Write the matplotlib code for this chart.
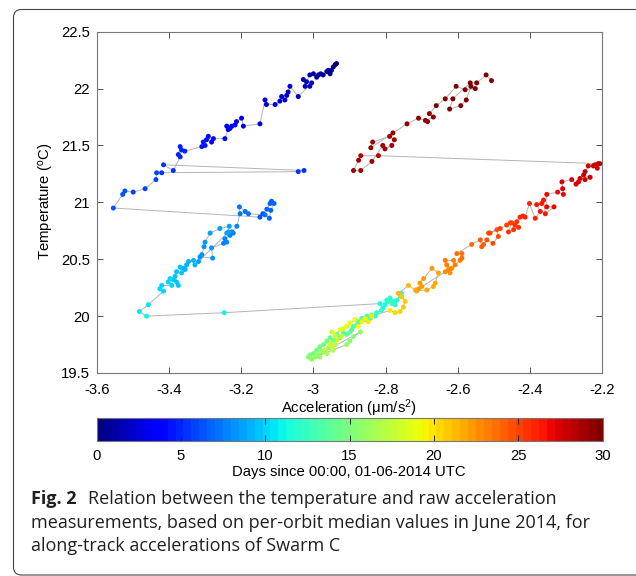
import matplotlib
matplotlib.use("Agg")
import matplotlib.pyplot as plt
import matplotlib.patches as mpatches
import matplotlib.transforms as mtransforms
from matplotlib.ticker import FuncFormatter
import numpy as np

# (acceleration um/s^2, temperature degC, days since 2014-06-01) per orbit, in time order
BLUE_TOP = [
    (-2.936, 22.22, 0.2), (-2.940, 22.21, 0.3), (-2.945, 22.19, 0.4), (-2.954, 22.13, 0.5),
    (-2.950, 22.16, 0.6), (-2.959, 22.16, 0.7), (-2.963, 22.15, 0.8), (-2.973, 22.12, 0.9),
    (-2.980, 22.13, 1.0), (-2.986, 22.12, 1.1), (-2.991, 22.10, 1.2), (-3.000, 22.13, 1.3),
    (-3.010, 22.12, 1.4), (-3.019, 22.06, 1.5), (-3.028, 22.08, 1.6), (-3.023, 22.02, 1.7),
    (-3.010, 22.02, 1.8), (-3.005, 22.05, 1.9), (-3.042, 21.93, 2.0), (-3.065, 22.02, 2.1),
    (-3.070, 21.97, 2.2), (-3.074, 21.94, 2.3), (-3.088, 21.93, 2.4), (-3.079, 21.90, 2.5),
    (-3.093, 21.89, 2.6), (-3.106, 21.86, 2.7), (-3.130, 21.86, 2.8), (-3.134, 21.90, 2.9),
    (-3.148, 21.69, 3.0), (-3.194, 21.67, 3.1), (-3.199, 21.74, 3.2), (-3.213, 21.71, 3.3),
    (-3.217, 21.68, 3.4), (-3.226, 21.67, 3.5), (-3.231, 21.65, 3.6), (-3.240, 21.67, 3.7),
    (-3.236, 21.64, 3.8), (-3.245, 21.56, 3.9), (-3.277, 21.56, 4.0), (-3.282, 21.53, 4.1),
    (-3.291, 21.58, 4.2), (-3.296, 21.55, 4.3), (-3.305, 21.53, 4.4), (-3.300, 21.50, 4.5),
    (-3.309, 21.49, 4.6), (-3.356, 21.45, 4.7), (-3.365, 21.46, 4.8), (-3.369, 21.49, 4.9),
    (-3.374, 21.42, 5.0), (-3.369, 21.40, 5.1), (-3.388, 21.28, 5.2), (-3.415, 21.33, 5.3),
    (-3.026, 21.28, 5.4), (-3.042, 21.27, 5.5), (-3.420, 21.26, 5.6), (-3.434, 21.26, 5.7),
    (-3.436, 21.20, 5.8), (-3.466, 21.12, 5.9), (-3.499, 21.09, 6.0), (-3.522, 21.10, 6.1),
    (-3.528, 21.07, 6.2), (-3.554, 20.95, 6.3),
]

BLUE_RIGHT = [
    (-3.148, 20.87, 6.4), (-3.140, 20.90, 6.5), (-3.129, 20.94, 6.6), (-3.120, 20.99, 6.7),
    (-3.116, 21.01, 6.75), (-3.109, 20.99, 6.8), (-3.118, 20.93, 6.9), (-3.122, 20.86, 7.0),
    (-3.134, 20.89, 7.05), (-3.180, 20.90, 7.15), (-3.189, 20.92, 7.2), (-3.205, 20.96, 7.3),
    (-3.203, 20.90, 7.4),
]

CYAN_TRACK = [
    (-3.212, 20.79, 7.5), (-3.226, 20.74, 7.6), (-3.222, 20.73, 7.65), (-3.231, 20.71, 7.7),
    (-3.245, 20.68, 7.8), (-3.240, 20.65, 7.85), (-3.249, 20.64, 7.9), (-3.282, 20.60, 8.0),
    (-3.279, 20.51, 8.1), (-3.314, 20.52, 8.2), (-3.309, 20.54, 8.25), (-3.303, 20.61, 8.3),
    (-3.300, 20.65, 8.4), (-3.286, 20.73, 8.5), (-3.259, 20.77, 8.6), (-3.233, 20.79, 8.65),
    (-3.240, 20.73, 8.7), (-3.235, 20.74, 8.75), (-3.318, 20.48, 8.9), (-3.328, 20.45, 9.0),
    (-3.332, 20.49, 9.05), (-3.346, 20.48, 9.1), (-3.351, 20.45, 9.2), (-3.360, 20.42, 9.3),
    (-3.355, 20.41, 9.35), (-3.369, 20.43, 9.4), (-3.365, 20.38, 9.5), (-3.379, 20.39, 9.55),
    (-3.383, 20.35, 9.6), (-3.379, 20.30, 9.7), (-3.374, 20.27, 9.75), (-3.388, 20.32, 9.8),
    (-3.397, 20.33, 9.85), (-3.402, 20.30, 9.9), (-3.392, 20.27, 10.0), (-3.420, 20.27, 10.1),
    (-3.425, 20.24, 10.2), (-3.415, 20.22, 10.3), (-3.457, 20.10, 10.5), (-3.482, 20.04, 10.7),
    (-3.462, 20.00, 10.9), (-3.247, 20.03, 11.2),
]

MID_CLUSTER = [
    (-2.816, 20.11, 11.4), (-2.808, 20.07, 11.5), (-2.802, 20.10, 11.6), (-2.797, 20.14, 11.7),
    (-2.788, 20.16, 11.8), (-2.779, 20.13, 11.9), (-2.769, 20.14, 12.0), (-2.760, 20.19, 12.1),
    (-2.756, 20.20, 12.15), (-2.774, 20.10, 12.25), (-2.783, 20.11, 12.3), (-2.792, 20.13, 12.35),
    (-2.812, 20.05, 12.4), (-2.825, 20.03, 12.5), (-2.829, 20.00, 12.6), (-2.839, 20.01, 12.7),
    (-2.843, 19.98, 12.8), (-2.852, 20.00, 12.9), (-2.857, 19.97, 13.0), (-2.866, 19.98, 13.1),
    (-2.876, 19.95, 13.2), (-2.880, 19.92, 13.3), (-2.889, 19.91, 13.4), (-2.894, 19.88, 13.5),
    (-2.899, 19.86, 13.6), (-2.908, 19.84, 13.7), (-2.917, 19.85, 13.8), (-2.926, 19.81, 13.9),
    (-2.935, 19.84, 14.0), (-2.945, 19.79, 14.15), (-2.954, 19.81, 14.3), (-2.963, 19.78, 14.45),
    (-2.972, 19.75, 14.6), (-2.982, 19.73, 14.75), (-2.991, 19.70, 14.9), (-3.000, 19.67, 15.05),
    (-3.009, 19.66, 15.2), (-3.014, 19.64, 15.35), (-3.005, 19.62, 15.5), (-2.995, 19.64, 15.6),
    (-2.908, 19.75, 15.7), (-2.899, 19.78, 15.75), (-2.889, 19.82, 15.8), (-2.870, 19.86, 15.85),
    (-2.986, 19.66, 15.9), (-2.982, 19.64, 16.1), (-2.977, 19.69, 16.3), (-2.963, 19.67, 16.5),
    (-2.968, 19.70, 16.7), (-2.959, 19.72, 16.9), (-2.945, 19.70, 17.1), (-2.949, 19.73, 17.3),
    (-2.940, 19.75, 17.5), (-2.954, 19.76, 17.7), (-2.935, 19.79, 17.9), (-2.922, 19.82, 18.1),
    (-2.949, 19.86, 18.2), (-2.940, 19.83, 18.25), (-2.926, 19.88, 18.4), (-2.917, 19.89, 18.5),
    (-2.908, 19.91, 18.6), (-2.899, 19.94, 18.75), (-2.885, 19.97, 18.9), (-2.876, 19.91, 19.1),
    (-2.866, 19.95, 19.3), (-2.857, 19.98, 19.5), (-2.848, 19.95, 19.7), (-2.839, 20.00, 19.9),
]

ORANGE_RED = [
    (-2.788, 20.05, 20.1), (-2.774, 20.03, 20.3), (-2.760, 20.04, 20.5), (-2.751, 20.08, 20.7),
    (-2.746, 20.13, 20.9), (-2.756, 20.17, 21.0), (-2.765, 20.20, 21.2), (-2.737, 20.27, 21.4),
    (-2.718, 20.23, 21.5), (-2.714, 20.22, 21.6), (-2.686, 20.23, 21.7), (-2.668, 20.26, 21.8),
    (-2.663, 20.29, 21.9), (-2.654, 20.38, 22.0), (-2.672, 20.42, 22.1), (-2.695, 20.33, 22.2),
    (-2.705, 20.29, 22.3), (-2.700, 20.26, 22.35), (-2.709, 20.24, 22.4), (-2.635, 20.39, 22.6),
    (-2.626, 20.41, 22.7), (-2.622, 20.38, 22.8), (-2.617, 20.42, 22.9), (-2.631, 20.45, 23.0),
    (-2.635, 20.49, 23.1), (-2.612, 20.49, 23.2), (-2.608, 20.45, 23.3), (-2.594, 20.49, 23.4),
    (-2.589, 20.51, 23.5), (-2.589, 20.55, 23.6), (-2.603, 20.55, 23.7), (-2.562, 20.63, 23.9),
    (-2.538, 20.67, 24.1), (-2.534, 20.61, 24.2), (-2.529, 20.63, 24.3), (-2.520, 20.67, 24.4),
    (-2.503, 20.64, 24.5), (-2.488, 20.70, 24.6), (-2.492, 20.76, 24.7), (-2.511, 20.73, 24.8),
    (-2.515, 20.73, 24.85), (-2.483, 20.77, 24.95), (-2.465, 20.80, 25.1), (-2.455, 20.82, 25.2),
    (-2.451, 20.82, 25.25), (-2.460, 20.74, 25.35), (-2.446, 20.76, 25.45), (-2.432, 20.78, 25.55),
    (-2.442, 20.80, 25.6), (-2.437, 20.83, 25.7), (-2.428, 20.87, 25.8), (-2.420, 20.88, 25.9),
    (-2.414, 20.87, 26.0), (-2.402, 20.99, 26.1), (-2.386, 20.86, 26.2), (-2.372, 20.92, 26.3),
    (-2.382, 20.98, 26.4), (-2.368, 20.99, 26.5), (-2.363, 21.02, 26.6), (-2.358, 20.90, 26.7),
    (-2.334, 20.96, 26.8), (-2.354, 20.96, 26.85), (-2.354, 21.07, 26.95), (-2.324, 21.09, 27.05),
    (-2.308, 21.07, 27.15), (-2.310, 21.12, 27.2), (-2.312, 21.18, 27.3), (-2.285, 21.20, 27.4),
    (-2.273, 21.16, 27.5), (-2.266, 21.18, 27.55), (-2.262, 21.21, 27.6), (-2.248, 21.20, 27.7),
    (-2.234, 21.22, 27.75), (-2.252, 21.24, 27.8), (-2.248, 21.27, 27.85), (-2.239, 21.32, 27.9),
    (-2.225, 21.32, 27.95), (-2.221, 21.33, 28.0), (-2.214, 21.30, 28.05), (-2.212, 21.34, 28.1),
    (-2.207, 21.34, 28.15),
]

DARK_RED = [
    (-2.820, 21.41, 28.5), (-2.869, 21.41, 28.55), (-2.875, 21.37, 28.6), (-2.889, 21.28, 28.65),
    (-2.869, 21.28, 28.7), (-2.838, 21.36, 28.75), (-2.808, 21.50, 28.8), (-2.802, 21.47, 28.85),
    (-2.783, 21.50, 28.9), (-2.776, 21.55, 28.95), (-2.789, 21.58, 29.0), (-2.836, 21.53, 29.05),
    (-2.841, 21.48, 29.1), (-2.780, 21.61, 29.15), (-2.741, 21.69, 29.2), (-2.709, 21.74, 29.3),
    (-2.684, 21.71, 29.35), (-2.690, 21.72, 29.4), (-2.668, 21.75, 29.45), (-2.679, 21.78, 29.5),
    (-2.660, 21.85, 29.55), (-2.635, 21.91, 29.6), (-2.605, 22.02, 29.65), (-2.580, 21.99, 29.7),
    (-2.552, 22.00, 29.72), (-2.564, 22.02, 29.75), (-2.577, 21.90, 29.78), (-2.592, 21.85, 29.8),
    (-2.623, 21.82, 29.83), (-2.614, 21.91, 29.86), (-2.566, 22.05, 29.9), (-2.548, 22.05, 29.93),
    (-2.522, 22.12, 29.96), (-2.507, 22.07, 30.0),
]

SEGMENTS = [BLUE_TOP, BLUE_RIGHT, CYAN_TRACK, MID_CLUSTER, ORANGE_RED, DARK_RED]

X_TICKS = [-3.6, -3.4, -3.2, -3.0, -2.8, -2.6, -2.4, -2.2]
Y_TICKS = [19.5, 20.0, 20.5, 21.0, 21.5, 22.0, 22.5]
DAY_TICKS = [0, 5, 10, 15, 20, 25, 30]

CAPTION_LINES = [
    "Relation between the temperature and raw acceleration",
    "measurements, based on per-orbit median values in June 2014, for",
    "along-track accelerations of Swarm C",
]

W, H = 636, 576


def main() -> None:
    plt.rcParams["font.family"] = ["Liberation Sans", "DejaVu Sans"]
    plt.rcParams["mathtext.fontset"] = "custom"
    plt.rcParams["mathtext.rm"] = "Liberation Sans"
    plt.rcParams["mathtext.it"] = "Liberation Sans:italic"
    plt.rcParams["axes.unicode_minus"] = False

    data = np.array([p for seg in SEGMENTS for p in seg])
    accel, temp, days = data[:, 0], data[:, 1], data[:, 2]

    fig = plt.figure(figsize=(W / 100, H / 100), dpi=100)
    ax = fig.add_axes([96.7 / W, 1 - 373 / H, 505.7 / W, 341.3 / H])

    cmap = matplotlib.colormaps["jet"].resampled(64)
    ax.plot(accel, temp, color="#b4b4b4", linewidth=0.7, zorder=1)
    sc = ax.scatter(accel, temp, c=days, cmap=cmap, vmin=0, vmax=30, s=13,
                    linewidths=0, zorder=2)

    ax.set_xlim(-3.6, -2.2)
    ax.set_ylim(19.5, 22.5)
    ax.set_xticks(X_TICKS)
    ax.set_yticks(Y_TICKS)
    fmt = FuncFormatter(lambda v, _: f"{v:g}")
    ax.xaxis.set_major_formatter(fmt)
    ax.yaxis.set_major_formatter(fmt)
    ax.tick_params(direction="in", top=True, right=True, length=4, width=0.6,
                   color="#333333", labelsize=10.7, pad=5)
    ax.tick_params(axis="x", pad=7)
    for spine in ax.spines.values():
        spine.set_color("#777777")
        spine.set_linewidth(0.8)

    fig.text(349 / W, 1 - 408 / H, "Acceleration (μm/s$^{2}$)", ha="center", va="center",
             fontsize=10.7)
    fig.text(47 / W, 1 - 201 / H, "Temperature ($^{\\rm o}$C)", ha="center", va="center",
             rotation=90, fontsize=10.7)

    cax = fig.add_axes([96.5 / W, 1 - 441 / H, 506 / W, 23.3 / H])
    cb = fig.colorbar(sc, cax=cax, orientation="horizontal", ticks=DAY_TICKS)
    cb.outline.set_edgecolor("#777777")
    cb.outline.set_linewidth(0.8)
    cax.tick_params(direction="in", top=True, bottom=True, length=4, width=0.7,
                    color="#222222", labelsize=10.7, pad=6)
    fig.text(349 / W, 1 - 472 / H, "Days since 00:00, 01-06-2014 UTC", ha="center",
             va="center", fontsize=10.7)

    # caption
    cap_font = ["Open Sans", "DejaVu Sans"]
    cap_size = 13
    fig.text(31 / W, 1 - 504 / H, "Fig. 2", family=cap_font, fontweight="bold",
             fontsize=cap_size, color="#231f20", va="baseline")
    fig.text(88 / W, 1 - 504 / H, CAPTION_LINES[0], family=cap_font, fontsize=cap_size,
             color="#231f20", va="baseline")
    fig.text(31 / W, 1 - 527.5 / H, CAPTION_LINES[1], family=cap_font, fontsize=cap_size,
             color="#231f20", va="baseline")
    fig.text(31 / W, 1 - 551 / H, CAPTION_LINES[2], family=cap_font, fontsize=cap_size,
             color="#231f20", va="baseline")

    frame = mpatches.FancyBboxPatch((13.5, 1.0), 700, 565.5,
                                    boxstyle="round,pad=0,rounding_size=8",
                                    transform=mtransforms.IdentityTransform(),
                                    facecolor="none", edgecolor="#444444", linewidth=0.8)
    fig.patches.append(frame)

    fig.savefig("out.png", dpi=100)
    plt.close(fig)


if __name__ == "__main__":
    main()
